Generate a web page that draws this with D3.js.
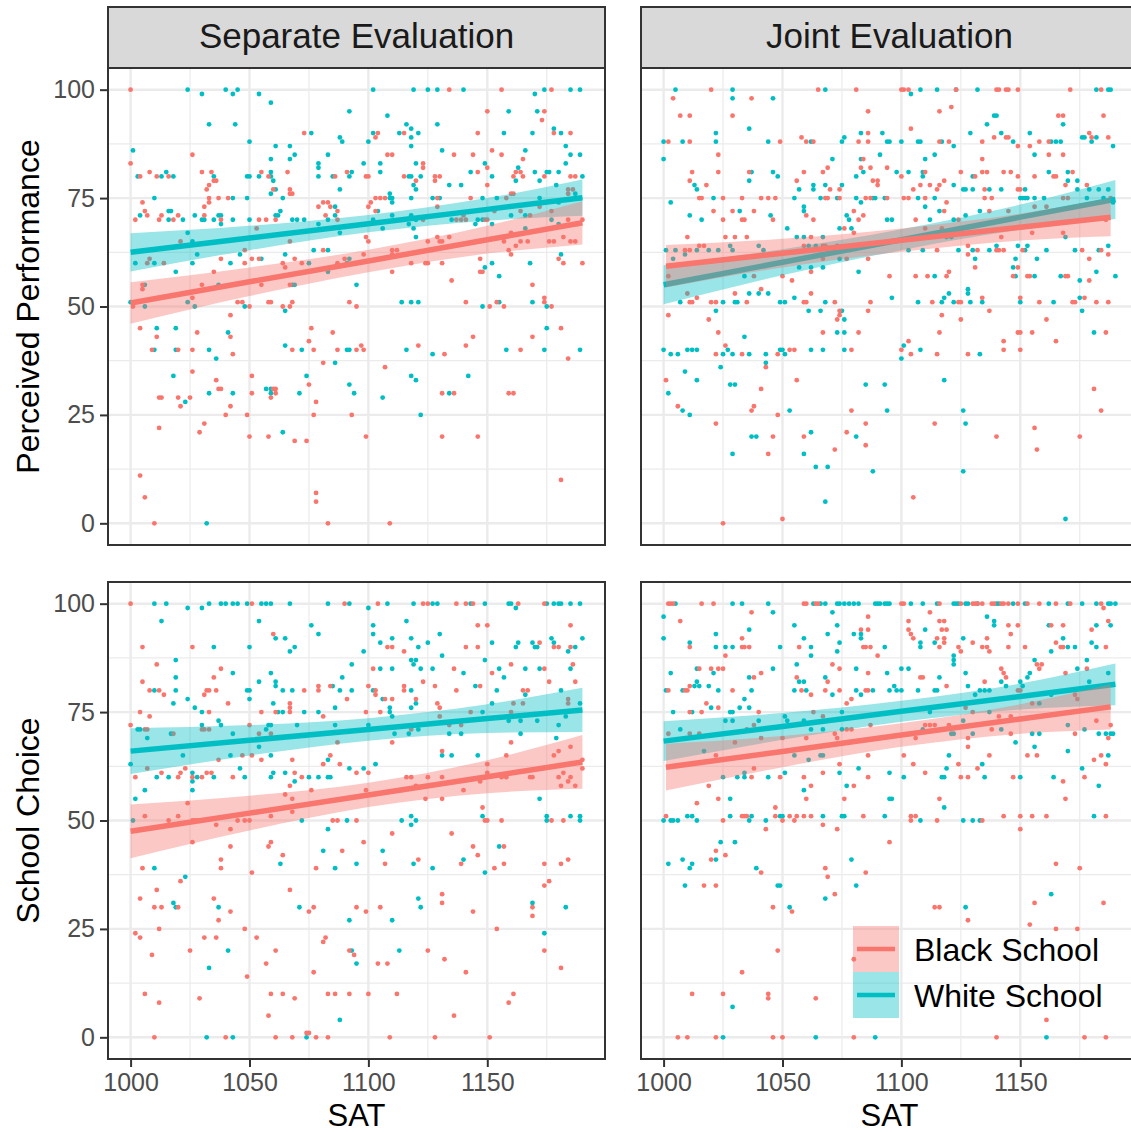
<!DOCTYPE html>
<html>
<head>
<meta charset="utf-8">
<script src="https://cdn.jsdelivr.net/npm/d3@7"></script>
<style>
  body { margin: 0; background: #fff; }
  svg text { font-family: "Liberation Sans", Arial, sans-serif; }
</style>
</head>
<body>
<svg id="chart" width="1131" height="1132"></svg>
<script>
// facet labels, axis ticks, legend
var colLabels = ["Separate Evaluation", "Joint Evaluation"];
var rowLabels = ["Perceived Performance", "School Choice"];
var groupLabels = ["Black School", "White School"];
var xTicks = [1000, 1050, 1100, 1150];
var xMinor = [1025, 1075, 1125, 1175];
var yTicks = [0, 25, 50, 75, 100];
var yMinor = [12.5, 37.5, 62.5, 87.5];

// points: [SAT, rating]
var sepPerfWhite = [[1024,100],[1030,99],[1040,100],[1043,99],[1045,100],[1054,99],[1059,97],[1033,92],[1044,92],[1092,95],[1076,90],[1050,88],[1088,89],[1089,88],[1001,86],[1061,87],[1067,87],[1059,84],[1067,84],[1069,85],[1083,85],[1079,83],[1079,82],[1003,80],[1013,80],[1015,81],[1018,80],[1035,80],[1049,80],[1050,80],[1054,80],[1059,81],[1059,80],[1060,79],[1079,80],[1085,80],[1092,80],[1093,81],[1059,76],[1061,77],[1088,77],[1010,75],[1043,75],[1049,75],[1064,75],[1004,71],[1016,70],[1016,72],[1017,72],[1022,70],[1027,71],[1030,70],[1031,70],[1035,70],[1037,71],[1038,71],[1038,69],[1043,70],[1050,70],[1061,71],[1063,72],[1062,71],[1068,70],[1070,70],[1073,70],[1086,73],[1086,71],[1079,69],[1083,70],[1024,67],[1026,65],[1088,67],[1083,63],[1077,63],[1028,62],[1046,62],[1065,62],[1055,61],[1092,61],[1002,60],[1010,60],[1026,60],[1042,60],[1075,60],[1091,60],[1083,58],[1019,58],[1006,55],[1037,55],[1068,55],[1069,55],[1095,55],[1000,51],[1006,50],[1024,51],[1027,50],[1048,50],[1065,49],[1011,45],[1019,45],[1041,44],[1010,40],[1019,40],[1033,40],[1036,38],[1065,41],[1072,40],[1091,40],[1092,40],[1086,37],[1018,34],[1074,34],[1092,32],[1033,30],[1043,30],[1057,31],[1059,31],[1059,30],[1071,30],[1094,30],[1023,28],[1064,21],[1032,0],
  [1102,100],[1119,100],[1125,100],[1129,100],[1140,100],[1174,100],[1185,100],[1189,100],[1170,99],[1159,95],[1171,95],[1108,94],[1116,92],[1102,90],[1113,90],[1118,91],[1118,89],[1121,90],[1129,92],[1157,90],[1169,90],[1178,91],[1181,90],[1118,87],[1100,88],[1131,86],[1166,86],[1183,87],[1185,85],[1189,85],[1098,83],[1105,83],[1105,81],[1120,83],[1149,83],[1163,82],[1183,83],[1117,80],[1118,80],[1122,80],[1119,78],[1120,77],[1134,78],[1139,78],[1143,81],[1152,80],[1162,79],[1170,81],[1172,79],[1175,81],[1176,81],[1180,81],[1179,78],[1190,80],[1109,76],[1109,75],[1110,75],[1110,74],[1104,72],[1118,75],[1127,75],[1130,75],[1148,75],[1154,75],[1172,75],[1180,74],[1187,76],[1188,75],[1189,75],[1102,70],[1106,68],[1110,71],[1117,69],[1118,71],[1119,68],[1120,70],[1120,66],[1135,70],[1145,69],[1146,70],[1148,70],[1152,69],[1160,71],[1166,71],[1166,68],[1177,70],[1180,69],[1181,62],[1149,59],[1152,60],[1155,57],[1168,60],[1114,51],[1118,51],[1121,51],[1148,50],[1155,51],[1169,51],[1175,50],[1175,45],[1116,40],[1127,39],[1158,40],[1174,40],[1189,40],[1118,34],[1120,33],[1142,34],[1106,29],[1134,30],[1122,25]];

var sepPerfBlack = [[1000,100],[1073,90],[1026,85],[1000,83],[1004,80],[1008,81],[1011,80],[1016,80],[1030,81],[1034,81],[1035,79],[1036,79],[1055,81],[1058,80],[1066,81],[1086,80],[1091,81],[1033,78],[1032,77],[1060,77],[1067,77],[1067,76],[1068,76],[1033,75],[1037,75],[1041,75],[1005,74],[1006,72],[1007,71],[1002,70],[1012,70],[1013,71],[1018,70],[1020,71],[1031,71],[1031,73],[1033,74],[1038,70],[1054,70],[1057,70],[1061,70],[1079,73],[1081,74],[1083,74],[1084,73],[1082,71],[1087,72],[1087,70],[1081,63],[1038,61],[1054,61],[1069,61],[1090,61],[1048,60],[1051,61],[1064,60],[1072,60],[1087,60],[1035,58],[1005,55],[1005,54],[1030,55],[1055,55],[1067,55],[1045,51],[1047,51],[1050,50],[1058,51],[1059,51],[1064,50],[1067,50],[1068,51],[1092,51],[1095,50],[1042,48],[1004,45],[1028,44],[1042,43],[1076,45],[1085,44],[1011,43],[1009,40],[1020,40],[1026,40],[1043,39],[1068,40],[1075,42],[1077,40],[1087,40],[1095,40],[1081,37],[1026,35],[1051,34],[1075,32],[1036,33],[1037,31],[1038,31],[1051,30],[1060,31],[1061,31],[1059,29],[1061,30],[1012,29],[1013,29],[1020,29],[1021,27],[1025,29],[1042,27],[1078,28],[1040,25],[1049,25],[1077,25],[1093,25],[1012,22],[1031,23],[1029,21],[1050,20],[1058,20],[1069,19],[1074,19],[1004,11],[1006,6],[1078,7],[1078,5],[1010,0],[1083,0],
  [1053,68],[1021,65],[1067,65],[1048,63],[1007,60],[1008,61],[1014,60],[1065,59],[1001,50],[1026,52],
  [1134,100],[1156,100],[1177,100],[1150,95],[1174,95],[1173,93],[1103,89],[1104,90],[1115,90],[1146,90],[1178,90],[1185,90],[1108,85],[1110,85],[1136,85],[1144,85],[1152,86],[1156,85],[1165,84],[1123,83],[1123,82],[1150,82],[1162,81],[1164,81],[1099,80],[1100,80],[1115,80],[1120,79],[1128,80],[1130,80],[1128,79],[1146,81],[1150,78],[1161,80],[1165,80],[1174,80],[1185,80],[1187,80],[1100,73],[1101,74],[1103,75],[1105,75],[1107,75],[1103,72],[1129,75],[1184,70],[1190,70],[1099,66],[1100,65],[1110,63],[1112,63],[1125,65],[1129,66],[1157,65],[1159,63],[1160,62],[1160,67],[1162,64],[1167,65],[1176,65],[1178,65],[1182,66],[1187,65],[1110,58],[1125,60],[1131,60],[1147,61],[1147,58],[1148,58],[1180,61],[1182,60],[1190,60],[1135,56],[1169,55],[1141,51],[1151,50],[1154,51],[1157,50],[1174,52],[1174,51],[1177,50],[1181,45],[1169,43],[1144,43],[1141,41],[1121,41],[1132,39],[1164,40],[1184,38],[1097,41],[1098,40],[1107,36],[1131,30],[1136,30],[1159,30],[1161,30],[1099,20],[1131,20],[1146,20],[1181,10],[1109,0],
  [1129,73],[1143,75],[1158,75],[1160,76],[1161,76],[1172,73],[1184,77],[1186,77],[1184,76],[1123,70],[1137,70],[1139,70],[1141,70],[1140,71],[1149,70],[1150,70],[1153,72],[1164,72],[1168,71],[1177,72],[1188,69],[1110,62],[1130,65],[1131,65],[1134,66],[1164,65],[1185,65],[1098,62],[1118,60],[1124,60]];

var jointPerfWhite = [[1005,100],[1029,100],[1068,100],[1029,98],[1046,98],[1036,91],[1022,90],[1076,89],[1083,90],[1092,90],[1000,88],[1008,88],[1022,88],[1044,88],[1062,88],[1075,88],[1094,88],[1000,84],[1071,84],[1083,84],[1091,85],[1037,81],[1046,81],[1084,81],[1048,80],[1081,80],[1036,79],[1013,78],[1063,78],[1068,78],[1075,78],[1014,77],[1063,77],[1021,75],[1055,75],[1057,77],[1066,75],[1073,75],[1081,75],[1088,75],[1089,75],[1093,75],[1003,74],[1083,74],[1059,73],[1059,72],[1032,72],[1011,71],[1045,71],[1077,71],[1016,70],[1078,70],[1094,70],[1052,68],[1074,68],[1079,68],[1056,66],[1059,66],[1067,66],[1040,64],[1028,64],[1061,64],[1064,64],[1073,64],[1001,63],[1005,63],[1014,63],[1019,63],[1023,63],[1029,63],[1042,63],[1004,61],[1009,62],[1057,59],[1062,59],[1067,59],[1074,61],[1034,57],[1082,58],[1036,53],[1040,53],[1044,53],[1007,51],[1025,51],[1030,51],[1031,51],[1049,51],[1051,51],[1055,52],[1061,49],[1066,49],[1068,51],[1075,49],[1022,49],[1076,47],[1073,44],[1076,44],[1034,43],[1000,40],[1010,40],[1012,40],[1014,40],[1027,40],[1049,40],[1050,40],[1062,40],[1067,40],[1076,40],[1003,39],[1006,39],[1025,39],[1029,39],[1036,39],[1043,39],[1051,39],[1043,37],[1024,36],[1009,35],[1014,33],[1028,32],[1030,32],[1085,32],[1093,32],[1002,30],[1008,26],[1011,25],[1053,26],[1094,26],[1037,20],[1039,20],[1062,21],[1081,20],[1029,16],[1059,16],[1064,13],[1069,13],[1088,12],[1068,5],
  [1108,100],[1115,100],[1123,100],[1132,100],[1182,100],[1187,100],[1188,100],[1104,99],[1136,92],[1139,94],[1140,94],[1168,92],[1129,90],[1142,90],[1154,90],[1176,89],[1177,89],[1182,89],[1095,88],[1100,88],[1107,88],[1108,88],[1117,88],[1147,88],[1163,88],[1165,88],[1167,88],[1180,88],[1122,87],[1189,87],[1156,85],[1114,85],[1110,84],[1098,81],[1103,81],[1109,81],[1162,81],[1170,81],[1109,80],[1130,80],[1122,78],[1170,79],[1174,79],[1107,75],[1114,75],[1126,77],[1127,77],[1130,77],[1137,77],[1142,77],[1150,75],[1151,75],[1152,75],[1153,75],[1152,77],[1156,75],[1160,75],[1174,77],[1178,75],[1179,77],[1183,77],[1185,75],[1187,77],[1189,74],[1110,73],[1116,72],[1096,70],[1112,70],[1122,70],[1127,71],[1133,72],[1119,66],[1121,66],[1169,66],[1187,64],[1140,64],[1149,64],[1153,64],[1103,63],[1109,63],[1124,63],[1130,63],[1137,63],[1152,63],[1161,63],[1173,63],[1183,63],[1131,61],[1147,59],[1148,61],[1157,61],[1114,57],[1148,57],[1156,57],[1167,57],[1175,56],[1182,58],[1190,57],[1096,52],[1118,52],[1120,53],[1128,54],[1128,53],[1175,52],[1107,51],[1117,51],[1122,51],[1129,51],[1134,51],[1150,51],[1164,51],[1176,49],[1181,44],[1101,41],[1108,40],[1100,38],[1133,39],[1118,33],[1126,26],[1127,23],[1126,12],[1169,1]];

var jointPerfBlack = [[1020,100],[1065,100],[1081,100],[1004,98],[1037,98],[1086,95],[1007,94],[1011,94],[1029,94],[1058,89],[1086,90],[1002,88],[1011,88],[1049,88],[1060,88],[1063,88],[1082,88],[1086,88],[1023,85],[1084,84],[1012,81],[1023,81],[1036,81],[1059,81],[1067,81],[1069,82],[1083,82],[1087,82],[1094,82],[1011,79],[1056,79],[1088,79],[1090,79],[1090,78],[1018,78],[1070,77],[1074,77],[1015,75],[1016,75],[1025,75],[1033,75],[1041,75],[1044,75],[1047,75],[1068,75],[1069,75],[1074,75],[1085,75],[1087,75],[1094,75],[1021,72],[1029,72],[1038,72],[1080,72],[1060,71],[1084,71],[1025,70],[1033,70],[1034,70],[1046,70],[1063,70],[1082,70],[1076,68],[1080,67],[1010,66],[1026,66],[1030,66],[1035,66],[1062,66],[1015,64],[1017,64],[1059,64],[1067,64],[1068,64],[1009,63],[1011,63],[1067,61],[1077,61],[1086,61],[1038,57],[1062,58],[1050,57],[1002,57],[1010,53],[1014,52],[1041,54],[1054,56],[1062,53],[1030,53],[1011,51],[1012,51],[1020,51],[1022,51],[1035,51],[1059,51],[1060,51],[1072,51],[1074,49],[1087,51],[1086,49],[1002,48],[1019,47],[1074,48],[1073,47],[1023,44],[1067,44],[1082,44],[1026,41],[1053,40],[1055,40],[1079,40],[1022,39],[1033,39],[1048,39],[1043,36],[1001,33],[1056,33],[1041,31],[1006,27],[1037,26],[1038,27],[1079,26],[1022,23],[1048,25],[1085,23],[1046,20],[1059,20],[1077,21],[1085,18],[1072,17],[1044,16],[1050,1],[1025,0],
  [1100,100],[1101,100],[1103,100],[1123,100],[1140,100],[1141,100],[1144,100],[1145,100],[1149,100],[1171,100],[1184,100],[1116,95],[1121,96],[1104,91],[1166,94],[1168,94],[1185,94],[1179,90],[1139,89],[1144,89],[1145,89],[1180,89],[1187,89],[1116,88],[1120,88],[1134,88],[1158,88],[1162,88],[1149,87],[1154,87],[1162,85],[1168,85],[1134,84],[1110,81],[1125,81],[1134,81],[1136,81],[1143,81],[1146,81],[1172,81],[1100,80],[1131,80],[1149,80],[1156,80],[1164,80],[1165,80],[1105,77],[1108,78],[1112,78],[1116,78],[1118,79],[1169,78],[1178,78],[1101,75],[1103,75],[1110,75],[1115,77],[1135,77],[1135,75],[1138,75],[1149,77],[1150,77],[1168,75],[1170,75],[1188,75],[1119,74],[1118,72],[1106,70],[1124,70],[1145,72],[1156,73],[1161,73],[1137,72],[1186,70],[1110,68],[1117,68],[1155,67],[1142,66],[1168,67],[1128,64],[1128,62],[1141,63],[1115,63],[1132,63],[1140,63],[1143,63],[1151,63],[1176,63],[1184,63],[1187,62],[1131,59],[1149,59],[1179,61],[1095,57],[1106,57],[1111,57],[1119,57],[1120,58],[1147,57],[1153,57],[1154,57],[1169,57],[1170,57],[1179,56],[1134,52],[1177,52],[1113,51],[1124,51],[1125,51],[1158,51],[1172,51],[1173,51],[1182,51],[1187,51],[1137,49],[1150,52],[1117,48],[1125,47],[1161,47],[1116,44],[1149,44],[1150,44],[1155,44],[1186,44],[1143,42],[1165,42],[1103,42],[1100,40],[1143,40],[1150,40],[1104,39],[1115,39],[1128,39],[1181,31],[1114,23],[1184,26],[1140,20],[1156,22],[1157,17],[1175,20],[1105,6]];

var sepChoiceWhite = [[1010,100],[1015,100],[1033,100],[1038,100],[1040,100],[1043,100],[1045,100],[1049,100],[1055,100],[1057,100],[1059,100],[1067,100],[1083,100],[1092,100],[1024,99],[1030,99],[1013,96],[1054,96],[1035,90],[1050,90],[1061,92],[1065,92],[1067,89],[1069,90],[1076,95],[1079,93],[1019,87],[1019,83],[1043,84],[1059,84],[1054,82],[1061,82],[1061,81],[1093,86],[1089,83],[1010,80],[1019,80],[1018,77],[1024,78],[1049,80],[1050,80],[1050,78],[1060,77],[1064,80],[1068,80],[1085,81],[1088,80],[1093,80],[1086,76],[1027,76],[1030,75],[1062,75],[1064,75],[1073,75],[1079,75],[1037,73],[1038,72],[1003,71],[1004,71],[1007,69],[1017,70],[1030,72],[1043,70],[1057,71],[1058,72],[1059,72],[1070,72],[1086,72],[1022,65],[1042,65],[1054,67],[1059,65],[1083,64],[1092,62],[1000,63],[1011,60],[1016,60],[1026,61],[1026,59],[1028,60],[1035,60],[1046,62],[1048,60],[1059,60],[1060,61],[1065,61],[1069,59],[1075,60],[1079,60],[1083,60],[1084,60],[1002,55],[1006,57],[1026,57],[1001,50],[1072,50],[1091,50],[1083,48],[1010,39],[1063,40],[1081,43],[1086,39],[1095,40],[1023,37],[1018,31],[1019,30],[1037,30],[1071,30],[1092,27],[1041,20],[1033,16],[1093,20],[1095,17],[1088,4],[1032,0],[1043,0],[1074,0],
  [1108,100],[1119,100],[1127,100],[1129,100],[1143,100],[1149,100],[1159,100],[1160,100],[1162,99],[1175,100],[1178,100],[1180,100],[1181,100],[1185,100],[1189,100],[1100,99],[1116,96],[1102,95],[1102,93],[1105,91],[1110,92],[1118,92],[1121,90],[1125,91],[1130,93],[1152,91],[1162,90],[1163,91],[1169,91],[1170,90],[1171,90],[1177,92],[1178,91],[1184,89],[1187,90],[1190,92],[1098,89],[1105,85],[1110,85],[1118,87],[1120,87],[1119,86],[1122,85],[1127,85],[1131,88],[1140,84],[1149,87],[1155,85],[1157,83],[1166,85],[1172,85],[1185,85],[1102,80],[1118,80],[1145,81],[1154,80],[1166,79],[1181,80],[1106,78],[1120,77],[1118,76],[1109,76],[1109,75],[1110,74],[1148,75],[1152,77],[1189,77],[1183,74],[1100,72],[1111,70],[1117,70],[1121,71],[1134,70],[1139,70],[1159,73],[1164,70],[1164,73],[1171,73],[1180,72],[1179,69],[1131,65],[1135,65],[1146,65],[1103,63],[1098,62],[1172,55],[1114,50],[1118,51],[1118,49],[1120,50],[1148,51],[1175,51],[1175,50],[1185,51],[1189,51],[1189,50],[1155,44],[1106,43],[1119,40],[1127,39],[1140,41],[1149,38],[1121,32],[1122,30],[1169,31],[1183,30],[1110,27],[1174,24],[1113,20]];

var sepChoiceBlack = [[1000,100],[1051,100],[1090,100],[1005,90],[1026,90],[1060,93],[1011,86],[1035,83],[1038,85],[1005,82],[1008,80],[1012,80],[1014,79],[1031,79],[1032,80],[1033,80],[1036,80],[1041,77],[1073,80],[1079,81],[1079,80],[1084,81],[1091,78],[1004,75],[1008,74],[1033,75],[1055,75],[1061,75],[1067,77],[1067,76],[1067,75],[1081,74],[1000,72],[1006,71],[1007,71],[1050,72],[1051,65],[1055,64],[1068,64],[1081,63],[1084,65],[1088,63],[1002,60],[1013,61],[1020,60],[1021,61],[1023,62],[1026,60],[1030,60],[1032,61],[1034,61],[1043,60],[1069,61],[1072,60],[1095,61],[1067,58],[1016,50],[1020,51],[1026,50],[1027,50],[1028,50],[1045,50],[1048,50],[1050,50],[1059,51],[1068,52],[1068,55],[1076,57],[1085,50],[1087,50],[1095,50],[1042,48],[1042,44],[1005,39],[1038,41],[1038,39],[1051,38],[1058,44],[1059,45],[1064,42],[1078,39],[1089,43],[1021,36],[1004,32],[1011,34],[1035,32],[1067,34],[1010,30],[1013,30],[1020,30],[1037,27],[1042,29],[1075,29],[1077,30],[1095,30],[1002,24],[1004,23],[1012,25],[1009,19],[1025,20],[1031,23],[1036,23],[1048,25],[1053,23],[1061,20],[1057,17],[1049,14],[1077,15],[1081,22],[1082,23],[1092,20],[1094,19],[1006,10],[1012,8],[1029,9],[1059,10],[1064,10],[1069,9],[1083,10],[1086,10],[1092,10],[1058,5],[1010,0],[1040,0],[1061,0],[1068,0],[1074,1],[1075,1],[1078,0],[1083,0],
  [1018,70],[1030,71],[1031,71],[1033,71],[1054,70],[1059,70],[1007,62],[1037,64],[1047,65],[1087,68],[1024,54],[1006,51],[1036,49],[1065,56],[1026,45],
  [1104,100],[1123,100],[1125,100],[1137,100],[1141,100],[1144,100],[1163,100],[1174,100],[1146,95],[1150,95],[1185,95],[1108,90],[1110,90],[1115,89],[1141,90],[1146,90],[1172,91],[1178,90],[1180,90],[1185,90],[1102,85],[1136,85],[1152,84],[1160,86],[1174,85],[1186,86],[1100,81],[1103,80],[1103,79],[1115,81],[1115,80],[1123,82],[1128,81],[1137,80],[1147,81],[1165,80],[1167,80],[1176,82],[1187,82],[1107,78],[1110,78],[1120,78],[1129,77],[1130,76],[1099,75],[1105,75],[1110,68],[1160,68],[1131,66],[1158,65],[1178,65],[1185,67],[1100,61],[1099,57],[1125,60],[1131,60],[1131,55],[1147,59],[1150,63],[1150,61],[1156,60],[1182,61],[1185,60],[1184,59],[1187,58],[1190,64],[1190,62],[1148,53],[1149,50],[1150,50],[1156,50],[1177,50],[1182,50],[1110,47],[1098,45],[1135,47],[1144,44],[1146,42],[1157,44],[1121,41],[1139,40],[1107,40],[1153,39],[1157,40],[1174,40],[1181,40],[1184,41],[1174,35],[1176,36],[1131,33],[1131,31],[1105,30],[1099,29],[1144,29],[1169,30],[1169,28],[1154,25],[1125,20],[1174,20],[1104,17],[1108,17],[1132,18],[1141,15],[1181,16],[1100,10],[1112,10],[1161,10],[1159,8],[1136,5],[1109,0],[1128,0],[1151,0],
  [1130,74],[1143,75],[1161,77],[1165,77],[1160,75],[1184,78],[1184,77],[1118,71],[1134,72],[1139,72],[1180,66],[1116,60],[1118,60],[1120,58],[1124,55],[1140,57],[1158,60],[1168,60],[1169,60],[1180,60],[1181,58]];

var jointChoiceWhite = [[1005,100],[1029,100],[1033,100],[1044,100],[1063,100],[1066,100],[1068,100],[1073,100],[1074,100],[1076,100],[1078,100],[1080,100],[1082,100],[1089,100],[1090,100],[1091,100],[1093,100],[1094,100],[1000,97],[1046,98],[1071,98],[1000,92],[1055,95],[1073,95],[1083,93],[1083,92],[1080,93],[1036,94],[1022,93],[1069,93],[1011,91],[1022,90],[1026,90],[1029,90],[1049,90],[1059,92],[1062,90],[1062,88],[1074,91],[1073,89],[1093,90],[1003,84],[1014,85],[1021,84],[1046,85],[1056,86],[1081,85],[1094,84],[1036,83],[1057,82],[1059,82],[1068,83],[1001,80],[1008,80],[1013,81],[1014,82],[1015,81],[1019,81],[1023,80],[1037,80],[1055,80],[1060,80],[1071,79],[1081,80],[1088,80],[1083,79],[1095,80],[1034,78],[1020,76],[1032,76],[1036,76],[1004,75],[1012,75],[1028,75],[1029,75],[1075,75],[1007,71],[1026,73],[1029,73],[1040,73],[1051,74],[1052,73],[1059,73],[1062,71],[1067,71],[1075,71],[1017,66],[1055,65],[1061,64],[1066,65],[1067,65],[1034,61],[1082,62],[1025,60],[1031,60],[1034,60],[1044,60],[1051,61],[1074,61],[1095,61],[1059,57],[1077,58],[1028,55],[1095,55],[1000,50],[1003,50],[1004,50],[1006,50],[1010,51],[1012,51],[1014,50],[1028,51],[1036,50],[1037,51],[1043,50],[1049,51],[1050,51],[1067,51],[1075,51],[1076,51],[1093,51],[1024,45],[1030,45],[1022,41],[1008,41],[1002,40],[1012,40],[1011,39],[1039,39],[1079,41],[1009,35],[1048,35],[1049,35],[1081,35],[1068,32],[1053,30],[1029,7],[1025,0],[1064,0],[1089,0],
  [1095,100],[1104,100],[1109,100],[1115,100],[1122,100],[1123,100],[1124,100],[1127,100],[1128,100],[1132,100],[1140,100],[1141,100],[1147,100],[1152,100],[1162,100],[1170,100],[1176,100],[1182,100],[1187,100],[1188,100],[1190,100],[1110,94],[1126,92],[1136,97],[1139,96],[1139,95],[1162,95],[1168,92],[1182,95],[1188,95],[1108,91],[1108,90],[1114,91],[1163,89],[1170,90],[1173,90],[1180,91],[1182,90],[1122,88],[1122,87],[1122,86],[1100,85],[1103,85],[1116,83],[1127,84],[1156,87],[1153,83],[1154,84],[1150,82],[1151,81],[1174,85],[1178,87],[1187,84],[1097,81],[1098,80],[1100,80],[1107,80],[1114,80],[1115,80],[1128,81],[1133,80],[1135,80],[1137,80],[1131,79],[1142,82],[1144,81],[1158,77],[1163,79],[1170,80],[1179,82],[1112,75],[1137,75],[1109,71],[1121,70],[1122,70],[1126,73],[1130,70],[1142,71],[1155,70],[1158,70],[1170,72],[1177,71],[1183,70],[1186,70],[1188,70],[1189,70],[1148,68],[1156,67],[1120,65],[1170,66],[1187,65],[1119,62],[1134,63],[1101,60],[1117,60],[1118,60],[1135,60],[1150,60],[1164,60],[1176,62],[1183,58],[1118,53],[1096,55],[1108,50],[1126,50],[1130,50],[1133,50],[1181,51],[1163,33],[1127,30],[1161,0]];

var jointChoiceBlack = [[1002,100],[1003,100],[1004,100],[1016,100],[1021,100],[1059,100],[1060,100],[1064,100],[1065,100],[1037,98],[1007,96],[1086,97],[1083,94],[1086,94],[1011,90],[1033,92],[1033,90],[1034,90],[1036,90],[1057,90],[1084,90],[1085,90],[1087,90],[1090,88],[1026,88],[1015,85],[1020,85],[1023,85],[1025,85],[1041,84],[1056,83],[1071,86],[1074,85],[1086,84],[1038,83],[1069,82],[1002,80],[1009,80],[1010,80],[1011,81],[1029,80],[1058,80],[1062,79],[1068,80],[1074,80],[1085,80],[1086,80],[1079,78],[1077,77],[1018,77],[1023,76],[1011,75],[1016,75],[1040,75],[1063,75],[1072,70],[1073,69],[1087,72],[1041,69],[1050,69],[1060,69],[1022,65],[1086,65],[1038,62],[1074,63],[1037,60],[1049,60],[1059,60],[1067,61],[1086,60],[1062,58],[1080,58],[1019,58],[1014,54],[1023,55],[1047,53],[1060,55],[1076,55],[1001,51],[1025,50],[1033,51],[1034,51],[1035,51],[1047,51],[1050,50],[1053,51],[1055,50],[1056,51],[1059,51],[1062,51],[1067,49],[1084,51],[1043,48],[1073,48],[1022,43],[1026,42],[1020,41],[1041,38],[1068,39],[1069,37],[1085,38],[1095,45],[1017,35],[1022,35],[1072,33],[1046,30],[1054,29],[1048,20],[1080,18],[1033,15],[1012,10],[1025,10],[1044,10],[1044,9],[1064,9],[1006,0],[1010,0],[1022,0],[1046,0],[1050,0],[1080,0],
  [1002,70],[1011,70],[1015,70],[1067,74],[1077,71],[1079,71],[1035,71],[1038,72],[1030,68],
  [1100,100],[1101,100],[1116,100],[1125,100],[1130,100],[1131,100],[1132,100],[1134,100],[1138,100],[1139,100],[1142,100],[1143,100],[1145,100],[1149,100],[1153,100],[1158,100],[1165,100],[1171,100],[1184,100],[1112,98],[1103,96],[1103,94],[1104,93],[1105,92],[1115,92],[1116,96],[1118,96],[1117,94],[1119,94],[1118,92],[1145,95],[1149,95],[1146,93],[1163,95],[1168,95],[1180,94],[1187,96],[1185,99],[1116,90],[1118,91],[1124,90],[1125,89],[1130,91],[1134,90],[1136,90],[1137,89],[1145,90],[1152,90],[1165,91],[1167,90],[1168,90],[1186,90],[1136,92],[1108,83],[1109,83],[1119,81],[1142,85],[1143,84],[1144,83],[1157,86],[1159,86],[1158,85],[1169,84],[1178,85],[1135,82],[1149,80],[1155,77],[1173,79],[1174,78],[1130,75],[1141,74],[1146,74],[1106,69],[1138,71],[1146,70],[1173,70],[1187,69],[1188,72],[1128,69],[1128,67],[1137,65],[1153,65],[1157,65],[1181,64],[1184,65],[1186,63],[1101,65],[1105,63],[1110,61],[1124,63],[1132,62],[1125,60],[1128,60],[1147,60],[1168,59],[1177,60],[1116,55],[1169,55],[1104,51],[1106,51],[1104,50],[1115,50],[1134,50],[1143,51],[1150,51],[1155,51],[1161,51],[1186,51],[1150,48],[1165,40],[1175,39],[1156,31],[1185,31],[1114,30],[1116,30],[1128,27],[1154,26],[1165,25],[1174,25],[1161,4],[1140,0],[1177,0],[1186,0],
  [1110,72],[1112,72],[1114,72],[1120,72],[1127,76],[1150,80],[1182,73]];

// linear fits with confidence band half-widths, read at these SAT values
var fitX = [1000, 1050, 1100, 1150, 1190];
var fitXJointBlack = [1001, 1050, 1100, 1150, 1188];
var sepPerfWhiteFit = [62.5, 65.8, 69.1, 72.4, 75.1];
var sepPerfWhiteBand = [4.4, 2.8, 2.0, 2.6, 4.2];
var sepPerfBlackFit = [50.8, 55.7, 60.5, 65.4, 69.3];
var sepPerfBlackBand = [4.8, 3.3, 2.6, 3.2, 5.0];
var jointPerfWhiteFit = [55.0, 60.2, 65.4, 70.6, 74.7];
var jointPerfWhiteBand = [4.5, 3.0, 2.4, 2.9, 4.5];
var jointPerfBlackFit = [59.3, 62.3, 65.3, 68.3, 70.6];
var jointPerfBlackBand = [4.9, 3.3, 2.7, 3.1, 4.4];
var sepChoiceWhiteFit = [66.0, 68.5, 71.0, 73.5, 75.5];
var sepChoiceWhiteBand = [5.3, 3.5, 2.6, 3.3, 5.1];
var sepChoiceBlackFit = [47.5, 51.7, 55.9, 60.1, 63.5];
var sepChoiceBlackBand = [6.2, 4.0, 2.8, 3.8, 6.2];
var jointChoiceWhiteFit = [68.3, 71.7, 75.2, 78.6, 81.4];
var jointChoiceWhiteBand = [4.6, 3.1, 2.4, 3.0, 4.8];
var jointChoiceBlackFit = [62.3, 65.9, 69.7, 73.4, 76.2];
var jointChoiceBlackBand = [5.4, 3.6, 2.7, 3.4, 5.2];

var red = "#F8766D", teal = "#00BFC4";

// layout
var panelW = 497, panelH = 477;
var colX = [108, 641];
var rowY = [68, 582];

var x = d3.scaleLinear().domain([990.5, 1199.5]).range([0, panelW]);
var y = d3.scaleLinear().domain([-5, 105]).range([panelH, 0]);

function toBand(xs, fit, band) {
  return xs.map(function (v, i) {
    return { x: v, fit: fit[i], lo: fit[i] - band[i], hi: fit[i] + band[i] };
  });
}

var panels = [
  { col: 0, row: 0, black: sepPerfBlack, white: sepPerfWhite,
    bFit: toBand(fitX, sepPerfBlackFit, sepPerfBlackBand), wFit: toBand(fitX, sepPerfWhiteFit, sepPerfWhiteBand) },
  { col: 1, row: 0, black: jointPerfBlack, white: jointPerfWhite,
    bFit: toBand(fitXJointBlack, jointPerfBlackFit, jointPerfBlackBand), wFit: toBand(fitX, jointPerfWhiteFit, jointPerfWhiteBand) },
  { col: 0, row: 1, black: sepChoiceBlack, white: sepChoiceWhite,
    bFit: toBand(fitX, sepChoiceBlackFit, sepChoiceBlackBand), wFit: toBand(fitX, sepChoiceWhiteFit, sepChoiceWhiteBand) },
  { col: 1, row: 1, black: jointChoiceBlack, white: jointChoiceWhite,
    bFit: toBand(fitXJointBlack, jointChoiceBlackFit, jointChoiceBlackBand), wFit: toBand(fitX, jointChoiceWhiteFit, jointChoiceWhiteBand) }
];

var svg = d3.select("#chart");
svg.append("rect").attr("width", 1131).attr("height", 1132).attr("fill", "#fff");

var ribbon = d3.area()
  .x(function (d) { return x(d.x); })
  .y0(function (d) { return y(d.lo); })
  .y1(function (d) { return y(d.hi); })
  .curve(d3.curveMonotoneX);
var fitLine = d3.line()
  .x(function (d) { return x(d.x); })
  .y(function (d) { return y(d.fit); });

panels.forEach(function (p, i) {
  var g = svg.append("g")
    .attr("transform", "translate(" + colX[p.col] + "," + rowY[p.row] + ")");

  g.append("clipPath").attr("id", "clip" + i)
    .append("rect").attr("width", panelW).attr("height", panelH);
  var inner = g.append("g").attr("clip-path", "url(#clip" + i + ")");

  inner.append("rect").attr("width", panelW).attr("height", panelH).attr("fill", "#fff");

  // grid lines
  inner.selectAll(".xminor").data(xMinor).enter().append("line")
    .attr("x1", x).attr("x2", x).attr("y1", 0).attr("y2", panelH)
    .attr("stroke", "#ebebeb").attr("stroke-width", 1.2);
  inner.selectAll(".yminor").data(yMinor).enter().append("line")
    .attr("x1", 0).attr("x2", panelW).attr("y1", y).attr("y2", y)
    .attr("stroke", "#ebebeb").attr("stroke-width", 1.2);
  inner.selectAll(".xmajor").data(xTicks).enter().append("line")
    .attr("x1", x).attr("x2", x).attr("y1", 0).attr("y2", panelH)
    .attr("stroke", "#ebebeb").attr("stroke-width", 2.4);
  inner.selectAll(".ymajor").data(yTicks).enter().append("line")
    .attr("x1", 0).attr("x2", panelW).attr("y1", y).attr("y2", y)
    .attr("stroke", "#ebebeb").attr("stroke-width", 2.4);

  // points
  inner.append("g").selectAll("circle").data(p.white).enter().append("circle")
    .attr("cx", function (d) { return x(d[0]); })
    .attr("cy", function (d) { return y(d[1]); })
    .attr("r", 2.4).attr("fill", teal);
  inner.append("g").selectAll("circle").data(p.black).enter().append("circle")
    .attr("cx", function (d) { return x(d[0]); })
    .attr("cy", function (d) { return y(d[1]); })
    .attr("r", 2.4).attr("fill", red);

  // smooths
  inner.append("path").datum(p.wFit).attr("d", ribbon)
    .attr("fill", teal).attr("fill-opacity", 0.4);
  inner.append("path").datum(p.wFit).attr("d", fitLine)
    .attr("fill", "none").attr("stroke", teal).attr("stroke-width", 5.5);
  inner.append("path").datum(p.bFit).attr("d", ribbon)
    .attr("fill", red).attr("fill-opacity", 0.4);
  inner.append("path").datum(p.bFit).attr("d", fitLine)
    .attr("fill", "none").attr("stroke", red).attr("stroke-width", 5.5);

  // panel border
  g.append("rect").attr("width", panelW).attr("height", panelH)
    .attr("fill", "none").attr("stroke", "#333").attr("stroke-width", 2);

  // strip on top row
  if (p.row === 0) {
    svg.append("rect")
      .attr("x", colX[p.col]).attr("y", 7).attr("width", panelW).attr("height", 61)
      .attr("fill", "#d9d9d9").attr("stroke", "#333").attr("stroke-width", 2);
    svg.append("text")
      .attr("x", colX[p.col] + panelW / 2).attr("y", 48)
      .attr("text-anchor", "middle").attr("font-size", 35).attr("fill", "#1a1a1a")
      .text(colLabels[p.col]);
  }

  // y axis on left column
  if (p.col === 0) {
    var ya = g.append("g").call(d3.axisLeft(y).tickValues(yTicks).tickSize(8).tickPadding(5));
    ya.select(".domain").remove();
    ya.selectAll(".tick line").attr("stroke", "#333").attr("stroke-width", 2);
    ya.selectAll(".tick text").attr("font-size", 25).attr("fill", "#4d4d4d")
      .attr("font-family", "Liberation Sans, Arial, sans-serif");
    svg.append("text")
      .attr("transform", "translate(39," + (rowY[p.row] + panelH / 2) + ") rotate(-90)")
      .attr("text-anchor", "middle").attr("font-size", 32).attr("fill", "#000")
      .text(rowLabels[p.row]);
  }

  // x axis on bottom row
  if (p.row === 1) {
    var xa = g.append("g").attr("transform", "translate(0," + panelH + ")")
      .call(d3.axisBottom(x).tickValues(xTicks).tickFormat(d3.format("d")).tickSize(8).tickPadding(6));
    xa.select(".domain").remove();
    xa.selectAll(".tick line").attr("stroke", "#333").attr("stroke-width", 2);
    xa.selectAll(".tick text").attr("font-size", 25).attr("fill", "#4d4d4d")
      .attr("font-family", "Liberation Sans, Arial, sans-serif");
    svg.append("text")
      .attr("x", colX[p.col] + panelW / 2).attr("y", 1126)
      .attr("text-anchor", "middle").attr("font-size", 31).attr("fill", "#000")
      .text("SAT");
  }
});

// legend inside the bottom-right panel
var legend = svg.append("g").attr("transform", "translate(853,926)");
[red, teal].forEach(function (c, i) {
  legend.append("rect").attr("x", 0).attr("y", i * 46).attr("width", 46).attr("height", 46)
    .attr("fill", c).attr("fill-opacity", 0.4);
  legend.append("line").attr("x1", 4).attr("x2", 42).attr("y1", i * 46 + 23).attr("y2", i * 46 + 23)
    .attr("stroke", c).attr("stroke-width", 4.5);
  legend.append("text").attr("x", 61).attr("y", i * 46 + 35)
    .attr("font-size", 32).attr("fill", "#000")
    .text(groupLabels[i]);
});
</script>
</body>
</html>
